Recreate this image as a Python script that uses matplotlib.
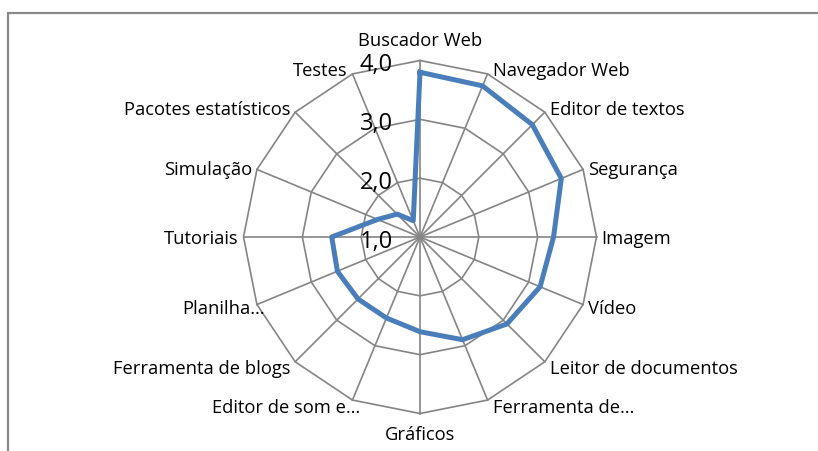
import numpy as np
import matplotlib
matplotlib.use("Agg")
import matplotlib.pyplot as plt
from matplotlib.patches import Rectangle

categories = ["Buscador Web", "Navegador Web", "Editor de textos", "Segurança",
              "Imagem", "Vídeo", "Leitor de documentos", "Ferramenta de…",
              "Gráficos", "Editor de som e…", "Ferramenta de blogs", "Planilha…",
              "Tutoriais", "Simulação", "Pacotes estatísticos", "Testes"]
values = [3.80, 3.78, 3.70, 3.60, 3.27, 3.21, 3.09, 2.89,
          2.61, 2.49, 2.49, 2.52, 2.50, 1.78, 1.55, 1.30]
ring_values = [2.0, 3.0, 4.0]
tick_values = [1.0, 2.0, 3.0, 4.0]
tick_labels = ["1,0", "2,0", "3,0", "4,0"]

W, H = 818, 452
DPI = 100
fig = plt.figure(figsize=(W / DPI, H / DPI), dpi=DPI)
plt.rcParams['font.family'] = ['Open Sans', 'DejaVu Sans']

cx, cy, R = 420, 238, 176.5
ax = fig.add_axes([(cx - R) / W, (H - cy - R) / H, 2 * R / W, 2 * R / H],
                  projection='polar')
ax.set_theta_zero_location('N')
ax.set_theta_direction(-1)
ax.set_ylim(1, 4)
ax.grid(False)
ax.spines['polar'].set_visible(False)
ax.set_xticks([])
ax.set_yticks([])
ax.patch.set_alpha(0)

n = len(categories)
theta = np.arange(n) * 2 * np.pi / n
grid_color = '#858585'

for t in theta:
    ax.plot([t, t], [1, 4], color=grid_color, lw=1.2, zorder=1, clip_on=False)
for r in ring_values:
    tt = np.append(theta, theta[0])
    ax.plot(tt, [r] * (n + 1), color=grid_color, lw=1.2, zorder=1, clip_on=False)

vv = values + [values[0]]
ax.plot(np.append(theta, theta[0]), vv, color='#4A7EBB', lw=3.6,
        solid_joinstyle='round', zorder=3, clip_on=False)

px = 0.72  # points per pixel
for t, lab in zip(theta, categories):
    s, c = np.sin(t), np.cos(t)
    if abs(s) < 1e-6:
        ha = 'center'
        dx = 0
        dy = 20 if c > 0 else -21
    else:
        ha = 'left' if s > 0 else 'right'
        dx = 5 if s > 0 else -5
        if s < 0 and lab.endswith('…'):
            dx += 13
        dy = 6 * c - 1.5
    ax.annotate(lab, xy=(t, 4), xytext=(dx * px, dy * px),
                textcoords='offset points', ha=ha, va='center',
                fontsize=13.2, color='#000000', annotation_clip=False)

for v, lab in zip(tick_values, tick_labels):
    ax.annotate(lab, xy=(0, v), xytext=(-27 * px, -10 * px),
                textcoords='offset points', ha='right', va='baseline',
                fontsize=17, color='#000000', annotation_clip=False, zorder=4)

fig.add_artist(Rectangle((8 / W, -0.1), 1.2, (H - 14) / H + 0.1,
                         transform=fig.transFigure, fill=False,
                         edgecolor='#898989', lw=1.6))

fig.savefig('out.png', dpi=DPI)
